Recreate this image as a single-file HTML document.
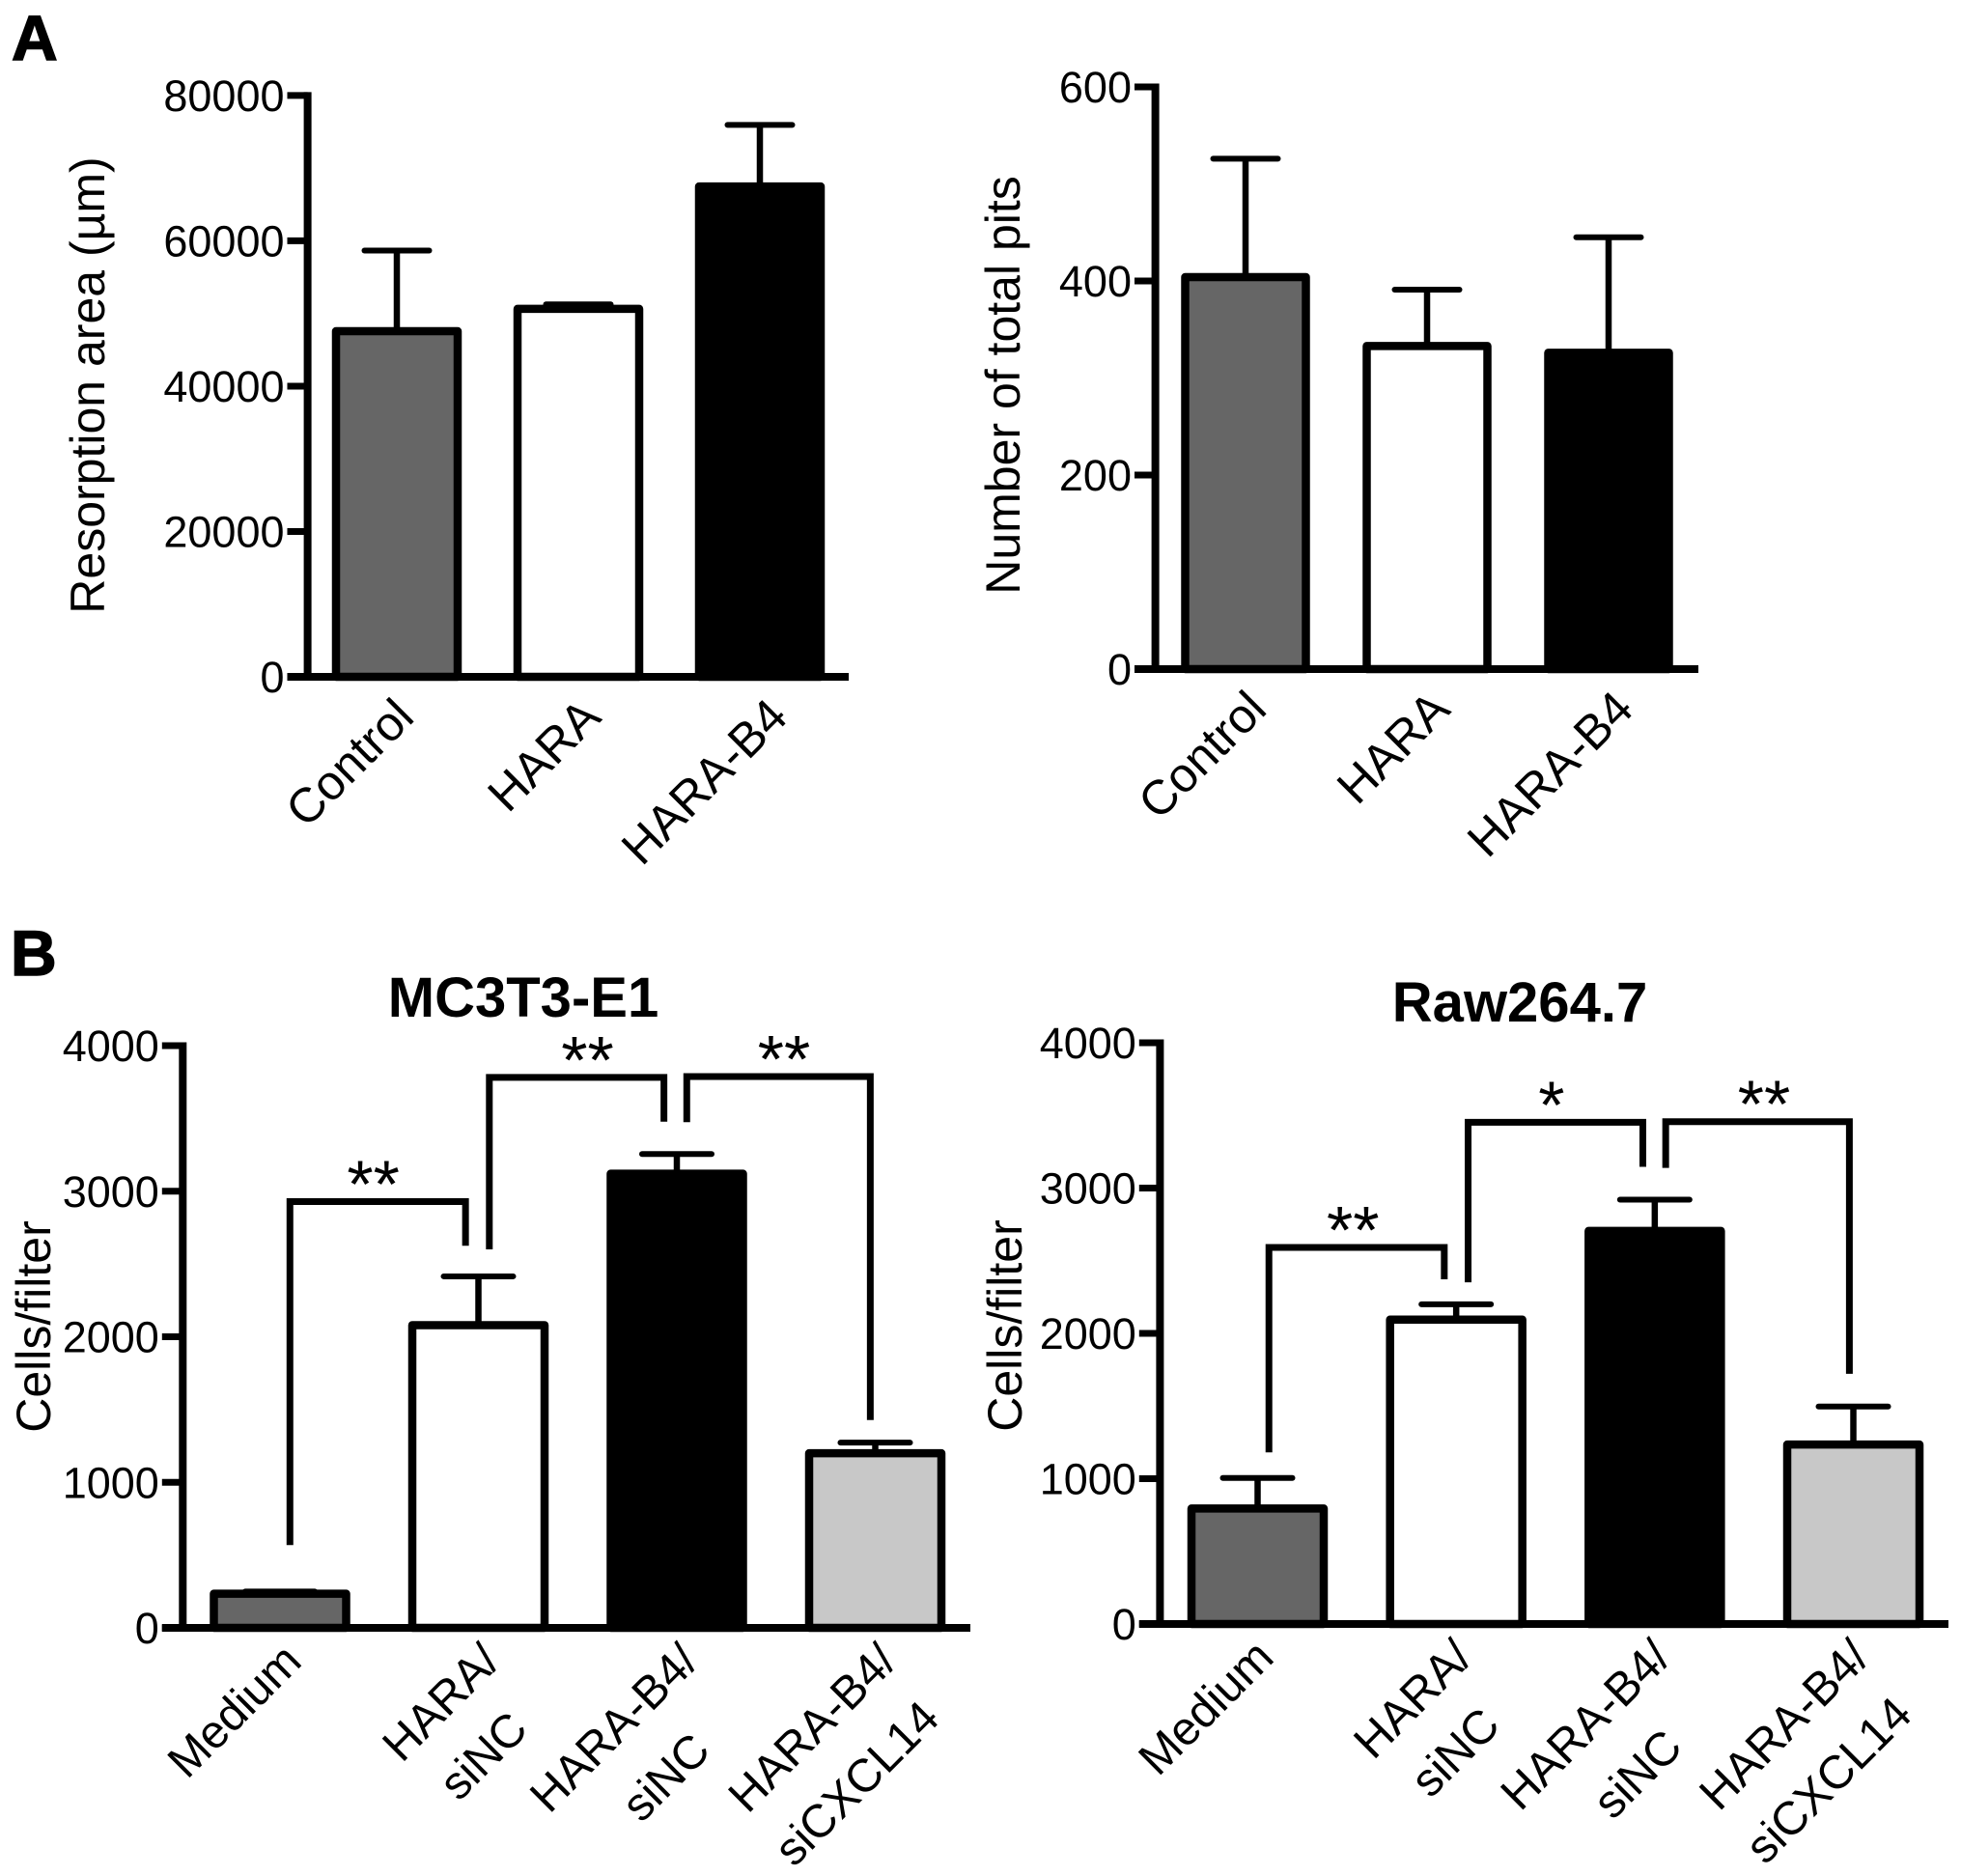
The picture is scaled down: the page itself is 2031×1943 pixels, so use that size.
<!DOCTYPE html>
<html lang="en">
<head>
<meta charset="utf-8">
<title>Resorption and migration bar charts</title>
<style>
  html, body { margin: 0; padding: 0; background: #fff; }
  svg { display: block; }
  text { font-family: "Liberation Sans", Arial, sans-serif; fill: #000; }
  .tick { font-size: 45px; }
  .axt { font-size: 50px; }
  .ttl { font-size: 58px; font-weight: bold; }
  .pnl { font-size: 66px; font-weight: bold; stroke: #000; stroke-width: 1.5px; }
  .star { font-size: 70px; }
</style>
</head>
<body>
<svg id="figure" xmlns="http://www.w3.org/2000/svg" width="2031" height="1943" viewBox="0 0 2031 1943">
  <rect x="0" y="0" width="2031" height="1943" fill="#fff"/>
  <text class="pnl" x="12" y="62">A</text>
  <text class="pnl" x="11" y="1010">B</text>
  <text class="ttl" x="542" y="1053" text-anchor="middle">MC3T3-E1</text>
  <text class="ttl" x="1574" y="1058" text-anchor="middle">Raw264.7</text>
  <text class="axt" text-anchor="middle" transform="translate(108 399) rotate(-90)">Resorption area (µm)</text>
  <text class="axt" text-anchor="middle" transform="translate(1056 399) rotate(-90)">Number of total pits</text>
  <text class="axt" text-anchor="middle" transform="translate(52 1374) rotate(-90)">Cells/filter</text>
  <text class="axt" text-anchor="middle" transform="translate(1058 1373) rotate(-90)">Cells/filter</text>
  <g id="chart-resorption"></g>
  <g id="chart-pits"></g>
  <g id="chart-mc3t3"></g>
  <g id="chart-raw"></g>
</svg>
<script>
// ---- Panel A, resorption area ----
const resorptionCategories = ['Control', 'HARA', 'HARA-B4'];
const resorptionValues = [47560, 50640, 67480];
const resorptionErrors = [11100, 620, 8470];
const resorptionTicks = [0, 20000, 40000, 60000, 80000];

// ---- Panel A, total pits ----
const pitsCategories = ['Control', 'HARA', 'HARA-B4'];
const pitsValues = [404, 333, 326];
const pitsErrors = [122, 58, 119];
const pitsTicks = [0, 200, 400, 600];

// ---- Panel B, MC3T3-E1 ----
const mc3t3Categories = [['Medium'], ['HARA/', 'siNC'], ['HARA-B4/', 'siNC'], ['HARA-B4/', 'siCXCL14']];
const mc3t3Values = [235, 2080, 3120, 1200];
const mc3t3Errors = [15, 335, 135, 73];
const mc3t3Ticks = [0, 1000, 2000, 3000, 4000];
const mc3t3BracketFrom = [0.05, 1.055, 2.05];
const mc3t3BracketTo = [0.935, 1.935, 2.975];
const mc3t3BracketLevel = [2929, 3782, 3788];
const mc3t3BracketFootLeft = [569, 2600, 3474];
const mc3t3BracketFootRight = [2625, 3478, 1428];
const mc3t3Stars = ['**', '**', '**'];
const mc3t3StarAt = [0.47, 1.55, 2.54];

// ---- Panel B, Raw264.7 ----
const rawCategories = [['Medium'], ['HARA/', 'siNC'], ['HARA-B4/', 'siNC'], ['HARA-B4/', 'siCXCL14']];
const rawValues = [795, 2095, 2705, 1235];
const rawErrors = [210, 105, 215, 262];
const rawTicks = [0, 1000, 2000, 3000, 4000];
const rawBracketFrom = [0.057, 1.06, 2.055];
const rawBracketTo = [0.94, 1.94, 2.98];
const rawBracketLevel = [2591, 3453, 3457];
const rawBracketFootLeft = [1181, 2351, 3139];
const rawBracketFootRight = [2372, 3146, 1722];
const rawStars = ['**', '*', '**'];
const rawStarAt = [0.48, 1.48, 2.55];

const SVGNS = 'http://www.w3.org/2000/svg';

function mk(tag, attrs, parent) {
  const el = document.createElementNS(SVGNS, tag);
  for (const k in attrs) el.setAttribute(k, attrs[k]);
  parent.appendChild(el);
  return el;
}

function drawChart(cfg) {
  const root = document.getElementById(cfg.id);
  const maxTick = Math.max.apply(null, cfg.ticks);
  const y = v => cfg.y0 - (v / maxTick) * (cfg.y0 - cfg.yTop);
  const x = i => cfg.x0 + i * cfg.step;

  // bars
  cfg.values.forEach((v, i) => {
    const bar = mk('rect', {
      x: x(i) - cfg.barW / 2, y: y(v), width: cfg.barW, height: Math.max(0, cfg.y0 - y(v)),
      fill: cfg.fills[i], stroke: '#000', 'stroke-width': 8.5, 'stroke-linejoin': 'round'
    }, root);
    
    

    const top = y(v + cfg.errors[i]);
    const stem = mk('line', {
      x1: x(i), x2: x(i), y1: y(v), y2: top, stroke: '#000', 'stroke-width': 6.5
    }, root);
    
    

    const cap = mk('line', {
      x1: x(i) - cfg.capW / 2, x2: x(i) + cfg.capW / 2, y1: top, y2: top,
      stroke: '#000', 'stroke-width': 6, 'stroke-linecap': 'round'
    }, root);
    
    
  });

  // axes
  const yAxis = mk('line', {
    x1: cfg.axisX, x2: cfg.axisX, y1: y(maxTick) - 3.5, y2: cfg.y0 + 4, stroke: '#000', 'stroke-width': 8
  }, root);
  
  

  const xAxis = mk('line', {
    x1: cfg.tickLeft, x2: cfg.axisRight, y1: cfg.y0, y2: cfg.y0, stroke: '#000', 'stroke-width': 8
  }, root);
  
  

  cfg.ticks.forEach(t => {
    const mark = mk('line', {
      x1: cfg.tickLeft, x2: cfg.axisX, y1: y(t), y2: y(t), stroke: '#000', 'stroke-width': 7
    }, root);
    
    

    const lab = mk('text', {
      class: 'tick', x: cfg.tickLeft - 3, y: y(t) + 16, 'text-anchor': 'end'
    }, root);
    
    
    lab.textContent = String(t);
  });

  // rotated category labels
  cfg.categories.forEach((c, i) => {
    const lines = Array.isArray(c) ? c : [c];
    const g = mk('g', {
      transform: 'translate(' + (x(i) + cfg.labelDx + i * cfg.labelSpread) + ' ' + (cfg.y0 + cfg.labelDy) + ') rotate(-45)',
      style: 'font-size:' + cfg.catFont + 'px'
    }, root);
    
    

    const first = mk('text', { x: 0, y: 0, 'text-anchor': 'end' }, g);
    
    
    first.textContent = lines[0];

    if (lines.length > 1) {
      const w = first.getComputedTextLength();
      const second = mk('text', { x: -w / 2 + secondLineShift[i], y: secondLineGap[i], 'text-anchor': 'middle' }, g);
      
      
      second.textContent = lines[1];
    }
  });

  // significance brackets
  (cfg.bracketLevel || []).forEach((lvl, i) => {
    const xa = x(cfg.bracketFrom[i]);
    const xb = x(cfg.bracketTo[i]);
    const path = mk('path', {
      d: 'M' + xa + ' ' + y(cfg.footLeft[i]) + ' L' + xa + ' ' + y(lvl) + ' L' + xb + ' ' + y(lvl) + ' L' + xb + ' ' + y(cfg.footRight[i]),
      fill: 'none', stroke: '#000', 'stroke-width': 7, 'stroke-linejoin': 'miter'
    }, root);
    
    

    const star = mk('text', {
      class: 'star', x: x(cfg.starAt[i]), y: y(lvl) + 6, 'text-anchor': 'middle'
    }, root);
    
    
    star.textContent = cfg.stars[i];
  });
}

// layout only: per-column nudges for the second line of two-line tick labels
var secondLineShift = [0, -8, 2, -8];
var secondLineGap = [0, 70, 74, 73];

const fills3 = ['#666666', '#ffffff', '#000000'];
const fills4 = ['#666666', '#ffffff', '#000000', '#c8c8c8'];

drawChart({
  id: 'chart-resorption', categories: resorptionCategories, values: resorptionValues,
  errors: resorptionErrors, ticks: resorptionTicks, fills: fills3,
  y0: 701, yTop: 98.9, axisX: 318.6, tickLeft: 297.5, axisRight: 879,
  x0: 411, step: 188, barW: 126, capW: 67, labelDx: 20, labelDy: 44, labelSpread: 5.5, catFont: 50
});
drawChart({
  id: 'chart-pits', categories: pitsCategories, values: pitsValues,
  errors: pitsErrors, ticks: pitsTicks, fills: fills3,
  y0: 693, yTop: 90, axisX: 1196.6, tickLeft: 1175, axisRight: 1759,
  x0: 1290, step: 188, barW: 125, capW: 67, labelDx: 24, labelDy: 44, labelSpread: 2, catFont: 50
});
drawChart({
  id: 'chart-mc3t3', categories: mc3t3Categories, values: mc3t3Values,
  errors: mc3t3Errors, ticks: mc3t3Ticks, fills: fills4,
  y0: 1686, yTop: 1083, axisX: 189.3, tickLeft: 167.8, axisRight: 1005,
  x0: 290, step: 205.5, barW: 137, capW: 72, labelDx: 24.5, labelDy: 37, labelSpread: 0, catFont: 48,
  bracketFrom: mc3t3BracketFrom, bracketTo: mc3t3BracketTo, bracketLevel: mc3t3BracketLevel,
  footLeft: mc3t3BracketFootLeft, footRight: mc3t3BracketFootRight,
  stars: mc3t3Stars, starAt: mc3t3StarAt
});
drawChart({
  id: 'chart-raw', categories: rawCategories, values: rawValues,
  errors: rawErrors, ticks: rawTicks, fills: fills4,
  y0: 1682, yTop: 1080, axisX: 1201.4, tickLeft: 1179.8, axisRight: 2018,
  x0: 1302.5, step: 205.67, barW: 137, capW: 72, labelDx: 19, labelDy: 37, labelSpread: 0, catFont: 48.5,
  bracketFrom: rawBracketFrom, bracketTo: rawBracketTo, bracketLevel: rawBracketLevel,
  footLeft: rawBracketFootLeft, footRight: rawBracketFootRight,
  stars: rawStars, starAt: rawStarAt
});
</script>
</body>
</html>
